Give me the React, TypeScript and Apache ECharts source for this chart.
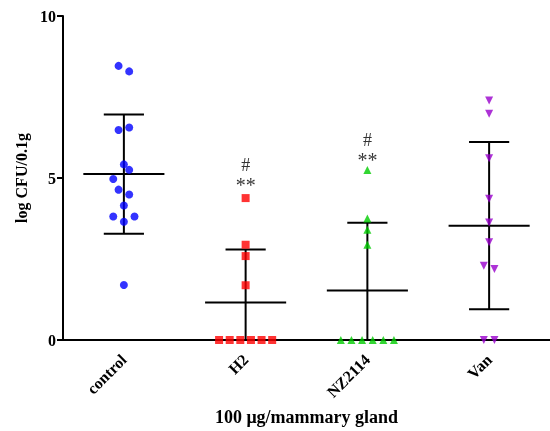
import React, { useEffect, useRef } from "react";
import * as echarts from "echarts";

const categories = ["control", "H2", "NZ2114", "Van"];
const yTicks = [0, 5, 10];

// values and horizontal jitter (in half-steps)
const controlValues = [8.46, 8.29, 6.48, 6.56, 5.42, 5.25, 4.97, 4.64, 4.49, 4.15, 3.81, 3.81, 3.65, 1.7];
const controlJitter = [-1, 1, -1, 1, 0, 1, -2, -1, 1, 0, -2, 2, 0, 0];
const h2Values = [4.38, 2.94, 2.59, 1.69, 0, 0, 0, 0, 0, 0];
const h2Jitter = [0, 0, 0, 0, -5, -3, -1, 1, 3, 5];
const nzValues = [5.25, 3.75, 3.4, 2.94, 0, 0, 0, 0, 0, 0];
const nzJitter = [0, 0, 0, 0, -5, -3, -1, 1, 3, 5];
const vanValues = [7.39, 6.98, 5.61, 4.36, 3.63, 3.02, 2.29, 2.19, 0, 0];
const vanJitter = [0, 0, 0, 0, 0, 0, -1, 1, -1, 1];

const means = [5.12, 1.16, 1.53, 3.53];
const sds = [1.84, 1.63, 2.09, 2.58];

const sigHash = [
  { cat: 1, y: 5.41, text: "#" },
  { cat: 2, y: 6.16, text: "#" },
];
const sigStars = [
  { cat: 1, y: 4.91, text: "**" },
  { cat: 2, y: 5.68, text: "**" },
];

const colors = ["#0000FF", "#FF0000", "#00CC00", "#9900CC"];
const FONT = "Liberation Serif";
const HALF_STEP = 0.0436;

function pts(cat: number, values: number[], jitter: number[]) {
  return values.map((v, i) => [cat + jitter[i] * HALF_STEP, v]);
}

export default function App() {
  const ref = useRef<HTMLDivElement>(null);
  useEffect(() => {
    if (!ref.current) return;
    const chart = echarts.init(ref.current, null, { renderer: "svg" });
    const groups = [
      { data: pts(0, controlValues, controlJitter), symbol: "circle", rotate: 0, size: 8 },
      { data: pts(1, h2Values, h2Jitter), symbol: "rect", rotate: 0, size: 8 },
      { data: pts(2, nzValues, nzJitter), symbol: "triangle", rotate: 0, size: 8 },
      { data: pts(3, vanValues, vanJitter), symbol: "triangle", rotate: 180, size: 8 },
    ];
    const errData = means.map((m, i) => [i, m, sds[i]]);
    const option: any = {
      animation: false,
      grid: { left: 63, right: -2, top: 16, bottom: 88, containLabel: false },
      xAxis: [
        {
          type: "category",
          data: categories,
          boundaryGap: true,
          axisLine: { onZero: false, lineStyle: { color: "#000", width: 2 } },
          axisTick: { alignWithLabel: true, length: 5, lineStyle: { color: "#000", width: 2 } },
          axisLabel: {
            rotate: 45,
            color: "#000",
            fontFamily: FONT,
            fontWeight: "bold",
            fontSize: 16,
            margin: 17,
          },
          name: "100 μg/mammary gland",
          nameLocation: "middle",
          nameGap: 68,
          nameTextStyle: { color: "#000", fontFamily: FONT, fontWeight: "bold", fontSize: 18 },
        },
        { type: "value", min: -0.5, max: 3.5, show: false },
      ],
      yAxis: {
        type: "value",
        min: 0,
        max: 10,
        interval: 5,
        splitLine: { show: false },
        axisLine: { show: true, onZero: false, lineStyle: { color: "#000", width: 2 } },
        axisTick: { show: true, length: 6, lineStyle: { color: "#000", width: 2 } },
        axisLabel: {
          color: "#000",
          fontFamily: FONT,
          fontWeight: "bold",
          fontSize: 16,
          margin: 7,
          formatter: (v: number) => (yTicks.includes(v) ? String(v) : ""),
        },
        name: "log CFU/0.1g",
        nameLocation: "middle",
        nameGap: 30,
        nameTextStyle: { color: "#000", fontFamily: FONT, fontWeight: "bold", fontSize: 16 },
      },
      series: [
        {
          type: "custom",
          xAxisIndex: 1,
          clip: false,
          z: 1,
          data: errData,
          renderItem: (params: any, api: any) => {
            const x = api.value(0);
            const m = api.value(1);
            const s = api.value(2);
            const top = m + s;
            const bot = Math.max(m - s, 0);
            const pM0 = api.coord([x - 0.333, m]);
            const pM1 = api.coord([x + 0.333, m]);
            const pT = api.coord([x, top]);
            const pB = api.coord([x, bot]);
            const cw = api.size([0.165, 0])[0];
            const style = { stroke: "#000", lineWidth: 2 };
            const children: any[] = [
              { type: "line", shape: { x1: pM0[0], y1: pM0[1], x2: pM1[0], y2: pM1[1] }, style },
              { type: "line", shape: { x1: pT[0], y1: pT[1], x2: pB[0], y2: pB[1] }, style },
              { type: "line", shape: { x1: pT[0] - cw, y1: pT[1], x2: pT[0] + cw, y2: pT[1] }, style },
            ];
            if (m - s >= 0) {
              children.push({ type: "line", shape: { x1: pB[0] - cw, y1: pB[1], x2: pB[0] + cw, y2: pB[1] }, style });
            }
            return { type: "group", children };
          },
        },
        ...groups.map((g, i) => ({
          type: "scatter",
          xAxisIndex: 1,
          data: g.data,
          symbol: g.symbol,
          symbolRotate: g.rotate,
          symbolSize: g.size,
          itemStyle: { color: colors[i] },
          clip: false,
          z: 3,
        })),
        {
          type: "scatter",
          xAxisIndex: 1,
          symbolSize: 0,
          data: sigHash.map((s) => [s.cat, s.y]),
          label: {
            show: true,
            position: "inside",
            formatter: (p: any) => sigHash[p.dataIndex].text,
            color: "#000",
            fontFamily: FONT,
            fontSize: 18,
          },
        },
        {
          type: "scatter",
          xAxisIndex: 1,
          symbolSize: 0,
          data: sigStars.map((s) => [s.cat, s.y]),
          label: {
            show: true,
            position: "inside",
            offset: [0, 4],
            formatter: (p: any) => sigStars[p.dataIndex].text,
            color: "#000",
            fontFamily: FONT,
            fontSize: 20,
          },
        },
      ],
    };
    chart.setOption(option);
    return () => chart.dispose();
  }, []);
  return (
    <div
      ref={ref}
      style={{ position: "fixed", left: 0, top: 0, width: 550, height: 431 }}
    />
  );
}
